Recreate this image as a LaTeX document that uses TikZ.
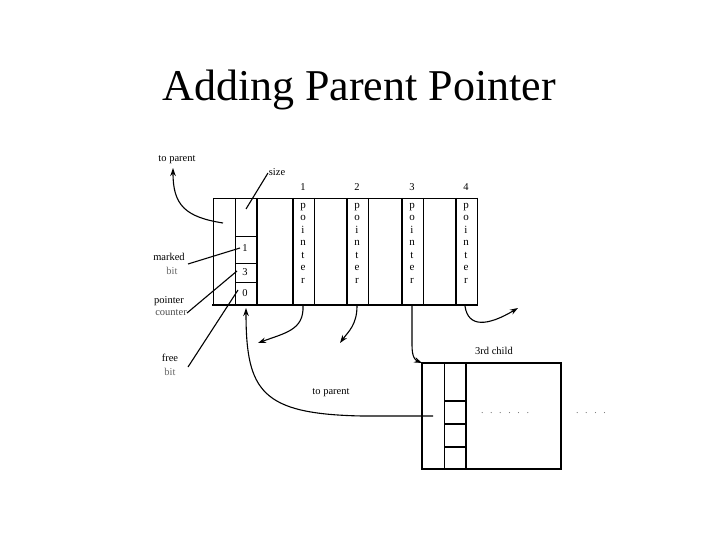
\documentclass[tikz,border=0pt]{standalone}
\usepackage{fontspec}
\setmainfont{Liberation Serif}
\usetikzlibrary{arrows.meta}
\newcommand{\dotgap}{\hspace{6.6pt}}
\tikzset{
  thin line/.style={line width=0.8pt},
  thick line/.style={line width=1.7pt},
  lbl/.style={font=\fontsize{10.5}{11}\selectfont, inner sep=0pt},
  ptr/.style={font=\fontsize{11}{12.5}\selectfont, align=center, inner sep=0pt},
  arr/.style={line width=1.1pt, -{Stealth[length=8pt,width=5.5pt]}},
  lead/.style={line width=1.1pt},
  dots/.style={font=\fontsize{10}{11}\selectfont, text=black!55, inner sep=0pt}
}
\begin{document}
\begin{tikzpicture}[x=1pt,y=-1pt]
\useasboundingbox (0,0) rectangle (720,540);
% title
\node[font=\fontsize{44}{48}\selectfont, anchor=base] (title) at (359,101) {Adding Parent Pointer};
% main record
\draw[thin line] (213,198) -- (477,198);
\draw[thin line] (213,198) -- (213,305);
\draw[thin line] (477,198) -- (477,305);
\draw[thick line] (212,305) -- (478,305);
\foreach \x in {235,314,368,423,477} \draw[thin line] (\x,198) -- (\x,305);
\foreach \x in {257,293,347,402,456} \draw[thick line] (\x,198) -- (\x,305);
\foreach \y in {236,263,282} \draw[thin line] (235,\y) -- (257,\y);
% cell contents
\node[lbl] (c1) at (245,248) {1};
\node[lbl] (c3) at (245,272) {3};
\node[lbl] (c0) at (245,293) {0};
\foreach \x/\n in {303/1,357/2,412/3,466/4} {
  \node[ptr] (p\n) at (\x,243) {p\\o\\i\\n\\t\\e\\r};
  \node[lbl] (n\n) at (\x,187) {\n};
}
% labels
\node[lbl] (toparent) at (177,160) {to parent};
\node[lbl] (size) at (277,172) {size};
\node[lbl] (marked) at (169,257) {marked};
\node[lbl, text=black!60] (mbit) at (172,271) {bit};
\node[lbl] (pointer) at (169,301) {pointer};
\node[lbl, text=black!70] (counter) at (171,313) {counter};
\node[lbl] (free) at (170,358) {free};
\node[lbl, text=black!60] (fbit) at (170,372) {bit};
\node[lbl] (toparent2) at (331,393) {to parent};
\node[lbl] (third) at (494,351) {3rd child};
% child record
\draw[line width=1.2pt] (422,363) rectangle (561,469);
\draw[thin line] (444,363) -- (444,469);
\draw[thick line] (466,363) -- (466,469);
\foreach \y in {401,424,447} \draw[line width=1.2pt] (444,\y) -- (466,\y);
\node[dots] (d1) at (505,413) {.\dotgap.\dotgap.\dotgap.\dotgap.\dotgap.};
\node[dots] (d2) at (591,413) {.\dotgap.\dotgap.\dotgap.};
% coordinates
\coordinate (tpstart) at (223,223);
\coordinate (tpend) at (173,168);
\coordinate (sizecell) at (246,209);
\coordinate (sizetip) at (268,173);
\coordinate (mcell) at (240,248);
\coordinate (mstart) at (188,264);
\coordinate (ccell) at (237,271);
\coordinate (cstart) at (187,313);
\coordinate (fcell) at (238,290);
\coordinate (fstart) at (188,367);
\coordinate (childtp) at (433,416);
\coordinate (zerobot) at (246,308);
\coordinate (b1) at (303,306);
\coordinate (b2) at (357,306);
\coordinate (b3) at (412,306);
\coordinate (b4) at (465,306);
\coordinate (t1) at (258,343);
\coordinate (t2) at (340,343);
\coordinate (t3) at (422,363);
\coordinate (t4) at (518,308);
% connectors
\draw[arr] (tpstart) .. controls (185,217) and (173,205) .. (tpend);
\draw[lead] (sizecell) -- (sizetip);
\draw[lead] (mstart) -- (mcell);
\draw[lead] (cstart) -- (ccell);
\draw[lead] (fstart) -- (fcell);
\draw[arr] (childtp) -- (362,416) .. controls (262,414) and (246,392) .. (zerobot);
\draw[arr] (b1) .. controls (304,330) and (285,333) .. (t1);
\draw[arr] (b2) .. controls (357,325) and (348,332) .. (t2);
\draw[arr] (b3) -- (412,345) .. controls (412,357) and (415,360) .. (t3);
\draw[arr] (b4) .. controls (468,328) and (488,326) .. (t4);
\end{tikzpicture}
\end{document}
